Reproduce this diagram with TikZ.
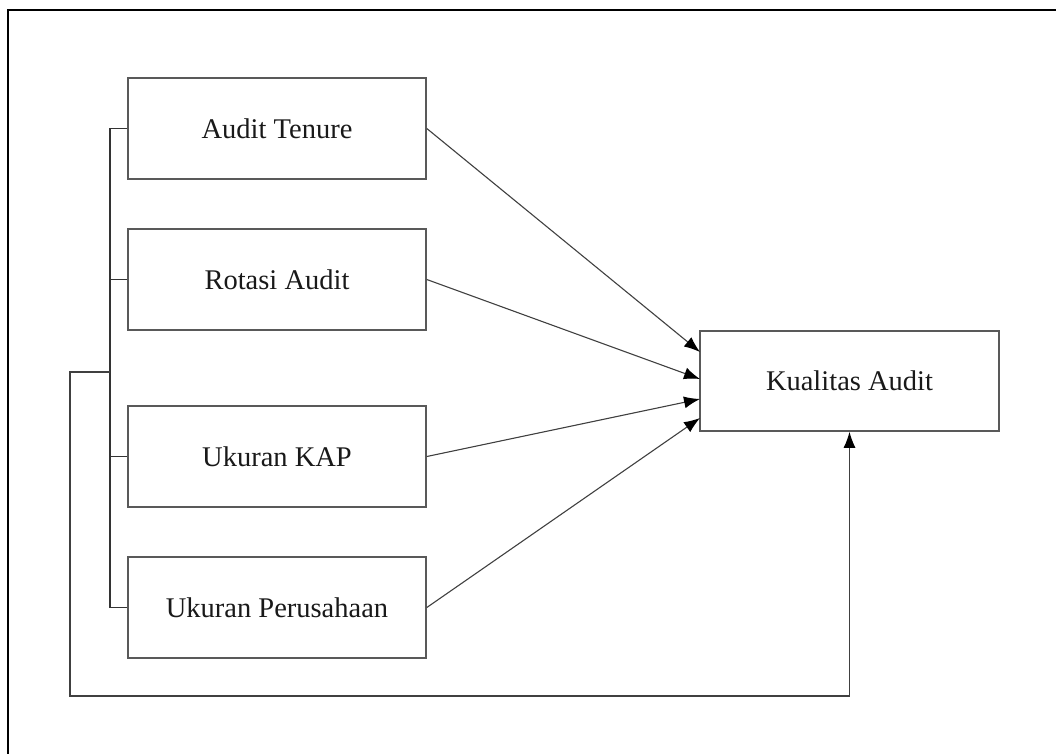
\documentclass[tikz,border=0pt]{standalone}
\usepackage{fontspec}
\setmainfont{Liberation Serif}
\usetikzlibrary{arrows.meta}
\begin{document}
\begin{tikzpicture}[x=1pt,y=-1pt,
  box/.style={draw=black!65,line width=1.6pt,fill=white,minimum width=298pt,minimum height=101pt,inner sep=0pt,font=\fontsize{28.5}{32}\selectfont,text=black!90},
  link/.style={draw=black!80,line width=1.2pt},
  conn/.style={draw=black!75,line width=1.1pt,-{Latex[length=16pt,width=12pt,color=black]}},
  frame/.style={draw=black,line width=2.6pt}]
\useasboundingbox (0,0) rectangle (1056,753);
\draw[frame] (1060,10) -- (8,10) -- (8,760);
\node[box] (a) at (277,128.5) {Audit Tenure};
\node[box] (b) at (277,279.5) {Rotasi Audit};
\node[box] (c) at (277,456.5) {Ukuran KAP};
\node[box] (d) at (277,607.5) {Ukuran Perusahaan};
\node[box,minimum width=299pt,minimum height=100pt] (k) at (849.5,381) {Kualitas Audit};
\coordinate (bx) at (110,0);
\coordinate (lp) at (110,372);
\coordinate (lb) at (70,696);
\coordinate (ka) at (700,352);
\coordinate (kb) at (700,379);
\coordinate (kc) at (700,399);
\coordinate (kd) at (700,418);
\draw[link] (a.west) -- (a.west -| bx) -- (d.west -| bx) -- (d.west);
\draw[link] (b.west) -- (b.west -| bx);
\draw[link] (c.west) -- (c.west -| bx);
\draw[conn] (lp) -| (lb) -| (k.south);
\draw[conn] (a.east) -- (ka);
\draw[conn] (b.east) -- (kb);
\draw[conn] (c.east) -- (kc);
\draw[conn] (d.east) -- (kd);
\end{tikzpicture}
\end{document}
